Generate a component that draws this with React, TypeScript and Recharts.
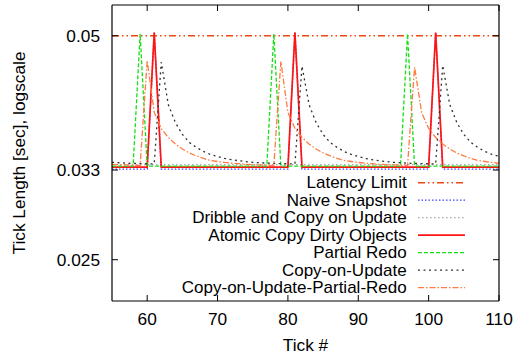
import React from 'react';
import { LineChart, Line, XAxis, YAxis, Legend } from 'recharts';

const ticks = [
  55, 56, 57, 58, 59, 60, 61, 62, 63, 64,
  65, 66, 67, 68, 69, 70, 71, 72, 73, 74,
  75, 76, 77, 78, 79, 80, 81, 82, 83, 84,
  85, 86, 87, 88, 89, 90, 91, 92, 93, 94,
  95, 96, 97, 98, 99, 100, 101, 102, 103, 104,
  105, 106, 107, 108, 109, 110,
];

const latencyLimit = [
  0.05, 0.05, 0.05, 0.05, 0.05, 0.05, 0.05, 0.05, 0.05, 0.05,
  0.05, 0.05, 0.05, 0.05, 0.05, 0.05, 0.05, 0.05, 0.05, 0.05,
  0.05, 0.05, 0.05, 0.05, 0.05, 0.05, 0.05, 0.05, 0.05, 0.05,
  0.05, 0.05, 0.05, 0.05, 0.05, 0.05, 0.05, 0.05, 0.05, 0.05,
  0.05, 0.05, 0.05, 0.05, 0.05, 0.05, 0.05, 0.05, 0.05, 0.05,
  0.05, 0.05, 0.05, 0.05, 0.05, 0.05,
];

const naiveSnapshot = [
  0.0331, 0.0331, 0.0331, 0.0331, 0.0331, 0.0331, 0.0505, 0.0331, 0.0331, 0.0331,
  0.0331, 0.0331, 0.0331, 0.0331, 0.0331, 0.0331, 0.0331, 0.0331, 0.0331, 0.0331,
  0.0331, 0.0331, 0.0331, 0.0331, 0.0331, 0.0331, 0.0505, 0.0331, 0.0331, 0.0331,
  0.0331, 0.0331, 0.0331, 0.0331, 0.0331, 0.0331, 0.0331, 0.0331, 0.0331, 0.0331,
  0.0331, 0.0331, 0.0331, 0.0331, 0.0331, 0.0331, 0.0505, 0.0331, 0.0331, 0.0331,
  0.0331, 0.0331, 0.0331, 0.0331, 0.0331, 0.0331,
];

const dribbleCopyOnUpdate = [
  0.03354, 0.03354, 0.03354, 0.03354, 0.03354, 0.03354, 0.03354, 0.03354, 0.03354, 0.03354,
  0.03354, 0.03354, 0.03354, 0.03354, 0.03354, 0.03354, 0.03354, 0.03354, 0.03354, 0.03354,
  0.03354, 0.03354, 0.03354, 0.03354, 0.03354, 0.03354, 0.03354, 0.03354, 0.03354, 0.03354,
  0.03354, 0.03354, 0.03354, 0.03354, 0.03354, 0.03354, 0.03354, 0.03354, 0.03354, 0.03354,
  0.03354, 0.03354, 0.03354, 0.03354, 0.03354, 0.03354, 0.03354, 0.03354, 0.03354, 0.03354,
  0.03354, 0.03354, 0.03354, 0.03354, 0.03354, 0.03354,
];

const atomicCopyDirty = [
  0.0333, 0.0333, 0.0333, 0.0333, 0.0333, 0.0333, 0.0505, 0.0333, 0.0333, 0.0333,
  0.0333, 0.0333, 0.0333, 0.0333, 0.0333, 0.0333, 0.0333, 0.0333, 0.0333, 0.0333,
  0.0333, 0.0333, 0.0333, 0.0333, 0.0333, 0.0333, 0.0505, 0.0333, 0.0333, 0.0333,
  0.0333, 0.0333, 0.0333, 0.0333, 0.0333, 0.0333, 0.0333, 0.0333, 0.0333, 0.0333,
  0.0333, 0.0333, 0.0333, 0.0333, 0.0333, 0.0333, 0.0505, 0.0333, 0.0333, 0.0333,
  0.0333, 0.0333, 0.0333, 0.0333, 0.0333, 0.0333,
];

const partialRedo = [
  0.0334, 0.0334, 0.0334, 0.0334, 0.0503, 0.0334, 0.0334, 0.0334, 0.0334, 0.0334,
  0.0334, 0.0334, 0.0334, 0.0334, 0.0334, 0.0334, 0.0334, 0.0334, 0.0334, 0.0334,
  0.0334, 0.0334, 0.0334, 0.0503, 0.0334, 0.0334, 0.0334, 0.0334, 0.0334, 0.0334,
  0.0334, 0.0334, 0.0334, 0.0334, 0.0334, 0.0334, 0.0334, 0.0334, 0.0334, 0.0334,
  0.0334, 0.0334, 0.0503, 0.0334, 0.0334, 0.0334, 0.0334, 0.0334, 0.0334, 0.0334,
  0.0334, 0.0334, 0.0334, 0.0334, 0.0334, 0.0334,
];

const copyOnUpdate = [
  0.03380, 0.03375, 0.03371, 0.03368, 0.03366, 0.03364, 0.03363, 0.04608, 0.04042, 0.03823,
  0.03684, 0.03594, 0.03539, 0.03495, 0.03463, 0.03442, 0.03420, 0.03407, 0.03396, 0.03387,
  0.03380, 0.03375, 0.03371, 0.03368, 0.03366, 0.03364, 0.03363, 0.04551, 0.04042, 0.03823,
  0.03684, 0.03594, 0.03539, 0.03495, 0.03463, 0.03442, 0.03420, 0.03407, 0.03396, 0.03387,
  0.03380, 0.03375, 0.03371, 0.03368, 0.03366, 0.03364, 0.03363, 0.04561, 0.04042, 0.03823,
  0.03684, 0.03594, 0.03539, 0.03495, 0.03463, 0.03442,
];

const copyOnUpdatePartialRedo = [
  0.03359, 0.03355, 0.03352, 0.03349, 0.03347, 0.04632, 0.03944, 0.03753, 0.03650, 0.03577,
  0.03522, 0.03479, 0.03447, 0.03420, 0.03399, 0.03388, 0.03378, 0.03370, 0.03365, 0.03359,
  0.03355, 0.03352, 0.03349, 0.03347, 0.04618, 0.03944, 0.03753, 0.03650, 0.03577, 0.03522,
  0.03479, 0.03447, 0.03420, 0.03399, 0.03388, 0.03378, 0.03370, 0.03365, 0.03359, 0.03355,
  0.03352, 0.03349, 0.03347, 0.04537, 0.03944, 0.03753, 0.03650, 0.03577, 0.03522, 0.03479,
  0.03447, 0.03420, 0.03399, 0.03388, 0.03378, 0.03370,
];

const seriesNames = [
  'Latency Limit',
  'Naive Snapshot',
  'Dribble and Copy on Update',
  'Atomic Copy Dirty Objects',
  'Partial Redo',
  'Copy-on-Update',
  'Copy-on-Update-Partial-Redo',
];
const seriesKeys = ['latency', 'naive', 'dribble', 'atomic', 'partial', 'cou', 'coupr'];
const seriesValues = [
  latencyLimit,
  naiveSnapshot,
  dribbleCopyOnUpdate,
  atomicCopyDirty,
  partialRedo,
  copyOnUpdate,
  copyOnUpdatePartialRedo,
];

const xTicks = [60, 70, 80, 90, 100, 110];
const yTicks = [0.025, 0.033, 0.05];
const yTickLabels = ['0.025', '0.033', '0.05'];

const seriesStyles = [
  { color: '#ee4812', dash: '7 3 1.5 3 1.5 3', width: 1.5 },
  { color: '#3c3cff', dash: '1.5 2', width: 1.3 },
  { color: '#8c8c8c', dash: '1.5 2.5', width: 1.1 },
  { color: '#ff1414', dash: undefined, width: 1.7 },
  { color: '#14e014', dash: '4 2', width: 1.3 },
  { color: '#303030', dash: '2 3.5', width: 1.3 },
  { color: '#ff7a40', dash: '6 2 1.5 2', width: 1.3 },
];

const rows = ticks.map((t, i) => {
  const r: Record<string, number> = { tick: t };
  seriesKeys.forEach((k, j) => {
    r[k] = seriesValues[j][i];
  });
  return r;
});

const FONT = '"Liberation Sans", Arial, sans-serif';
const FS = 17.3;
const LFS = 17;

const LegendBox = () => (
  <svg width={518} height={356} style={{ fontFamily: FONT }}>
    {seriesNames.map((name, i) => {
      const y = 182.7 + i * 17.5;
      const s = seriesStyles[i];
      return (
        <g key={name}>
          <text x={406.7} y={y} textAnchor="end" dominantBaseline="central" fontSize={LFS} fill="#000">
            {name}
          </text>
          <line x1={418} x2={465} y1={y} y2={y} stroke={s.color} strokeWidth={s.width} strokeDasharray={s.dash} />
        </g>
      );
    })}
  </svg>
);

const YLabel = (props: any) => {
  const vb = props.viewBox || { x: 0, y: 0, height: 0 };
  const cx = vb.x + 18.7;
  const cy = vb.y + vb.height / 2;
  return (
    <text
      x={cx}
      y={cy}
      transform={`rotate(-90, ${cx}, ${cy})`}
      textAnchor="middle"
      dominantBaseline="central"
      fontSize={FS}
      fill="#000"
      fontFamily={FONT}
    >
      Tick Length [sec], logscale
    </text>
  );
};

export default function App() {
  return (
    <div style={{ position: 'absolute', left: 0, top: 0, fontFamily: FONT, background: '#fff' }}>
      <LineChart width={518} height={356} data={rows} margin={{ top: 0, right: 0, bottom: 0, left: 0 }}>
        <XAxis
          dataKey="tick"
          type="number"
          domain={[55, 110]}
          ticks={xTicks}
          allowDataOverflow
          height={55}
          tickSize={-6}
          tickMargin={18}
          stroke="#000"
          tick={{ fontSize: FS, fill: '#000', fontFamily: FONT }}
          axisLine={{ stroke: '#000', strokeWidth: 1.2 }}
          tickLine={{ stroke: '#000' }}
          label={{ value: 'Tick #', position: 'insideBottom', offset: 5, fontSize: FS, fill: '#000', fontFamily: FONT }}
        />
        <XAxis
          xAxisId="top"
          orientation="top"
          dataKey="tick"
          type="number"
          domain={[55, 110]}
          ticks={xTicks}
          allowDataOverflow
          height={5}
          tickSize={-6}
          tickFormatter={() => ''}
          stroke="#000"
          axisLine={{ stroke: '#000', strokeWidth: 1.2 }}
          tickLine={{ stroke: '#000' }}
        />
        <YAxis
          type="number"
          scale="log"
          domain={[0.022, 0.055]}
          allowDataOverflow
          ticks={yTicks}
          width={112}
          tickSize={-6}
          tickMargin={18}
          tickFormatter={(v: number) => yTickLabels[yTicks.indexOf(v)] ?? String(v)}
          stroke="#000"
          tick={{ fontSize: FS, fill: '#000', fontFamily: FONT }}
          axisLine={{ stroke: '#000', strokeWidth: 1.2 }}
          tickLine={{ stroke: '#000' }}
          label={YLabel}
        />
        <YAxis
          yAxisId="right"
          orientation="right"
          type="number"
          scale="log"
          domain={[0.022, 0.055]}
          allowDataOverflow
          ticks={yTicks}
          width={19}
          tickSize={-6}
          tickFormatter={() => ''}
          stroke="#000"
          axisLine={{ stroke: '#000', strokeWidth: 1.2 }}
          tickLine={{ stroke: '#000' }}
        />
        {seriesKeys.map((k, i) => (
          <Line
            key={k}
            dataKey={k}
            name={seriesNames[i]}
            type="linear"
            stroke={seriesStyles[i].color}
            strokeWidth={seriesStyles[i].width}
            strokeDasharray={seriesStyles[i].dash}
            dot={false}
            activeDot={false}
            isAnimationActive={false}
          />
        ))}
        <Legend
          layout="vertical"
          align="center"
          verticalAlign="middle"
          wrapperStyle={{ position: 'absolute', left: 0, top: 0, width: 518, height: 356, pointerEvents: 'none' }}
          content={() => <LegendBox />}
        />
      </LineChart>
    </div>
  );
}
